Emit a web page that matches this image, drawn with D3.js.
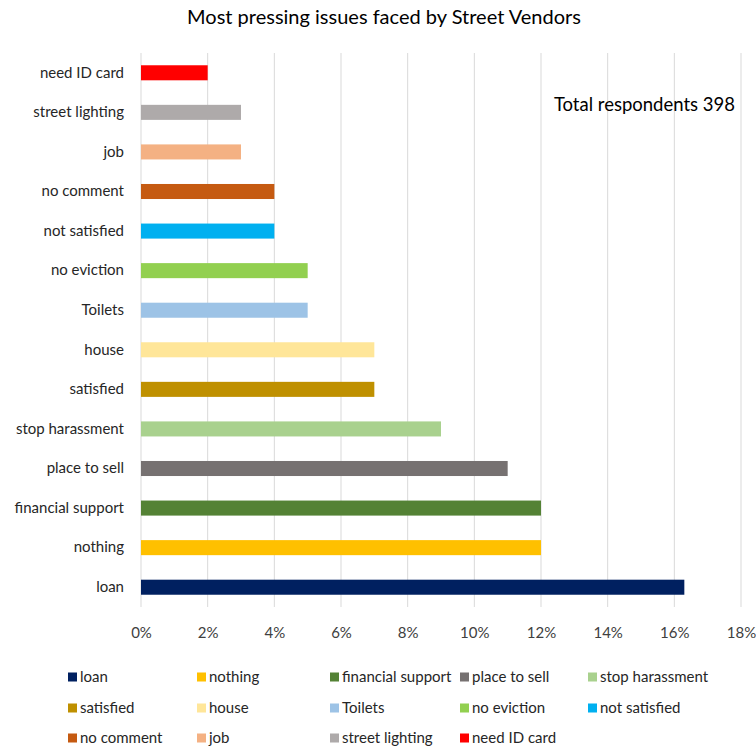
<!DOCTYPE html>
<html>
<head>
<meta charset="utf-8">
<script src="https://cdn.jsdelivr.net/npm/d3@7"></script>
<style>
  html, body { margin: 0; padding: 0; background: #fff; }
  svg { display: block; font-family: Lato, "Open Sans", sans-serif; }
</style>
</head>
<body>
<svg id="chart" width="756" height="748"></svg>
<script>
// Issues, listed from the bottom bar upward
const categories = ["loan", "nothing", "financial support", "place to sell", "stop harassment",
  "satisfied", "house", "Toilets", "no eviction", "not satisfied",
  "no comment", "job", "street lighting", "need ID card"];
// Share of respondents (%)
const values = [16.3, 12, 12, 11, 9, 7, 7, 5, 5, 4, 4, 3, 3, 2];
const colors = ["#002060", "#FFC000", "#548235", "#767171", "#A9D18E",
  "#BF9000", "#FFE699", "#9DC3E6", "#92D050", "#00B0F0",
  "#C55A11", "#F4B183", "#AEAAAA", "#FF0000"];
const xTicks = [0, 2, 4, 6, 8, 10, 12, 14, 16, 18];
const titleText = "Most pressing issues faced by Street Vendors";
const noteText = "Total respondents 398";

const svg = d3.select("#chart");
const m = { left: 141, right: 741, top: 53, bottom: 607 };

const x = d3.scaleLinear().domain([0, 18]).range([m.left, m.right]);
// top of chart shows the last category
const y = d3.scaleBand().domain(categories.slice().reverse())
  .range([m.top, m.bottom]).paddingInner(0.62).paddingOuter(0.31);

// vertical gridlines
svg.append("g").selectAll("line").data(xTicks).join("line")
  .attr("x1", d => x(d)).attr("x2", d => x(d))
  .attr("y1", m.top).attr("y2", m.bottom)
  .attr("stroke", "#d9d9d9").attr("stroke-width", 1);

// x axis labels
const xAxis = d3.axisBottom(x).tickValues(xTicks).tickFormat(d => d + "%").tickSize(0).tickPadding(20);
const gx = svg.append("g").attr("transform", `translate(0,${m.bottom})`).call(xAxis);
gx.select(".domain").remove();
gx.selectAll("text").attr("font-size", 15).attr("fill", "#404040").attr("font-family", "Lato, sans-serif");

// y axis labels
const yAxis = d3.axisLeft(y).tickSize(0).tickPadding(17);
const gy = svg.append("g").attr("transform", `translate(${m.left},0)`).call(yAxis);
gy.select(".domain").remove();
gy.selectAll("text").attr("font-size", 15).attr("fill", "#262626").attr("font-family", "Lato, sans-serif");

// bars
svg.append("g").selectAll("rect").data(categories).join("rect")
  .attr("x", x(0))
  .attr("y", d => y(d))
  .attr("height", y.bandwidth())
  .attr("width", (d, i) => x(values[i]) - x(0))
  .attr("fill", (d, i) => colors[i]);

// title
svg.append("text").attr("x", 384).attr("y", 24).attr("text-anchor", "middle")
  .attr("font-size", 20).attr("fill", "#000").text(titleText);

// annotation
svg.append("text").attr("x", 735).attr("y", 111).attr("text-anchor", "end")
  .attr("font-size", 18.5).attr("fill", "#000").text(noteText);

// legend: 5 columns, 3 rows
const colX = [68, 197, 330, 460, 588];
const rowY = [677, 708, 738];
const lg = svg.append("g").selectAll("g").data(categories).join("g")
  .attr("transform", (d, i) => `translate(${colX[i % 5]},${rowY[Math.floor(i / 5)]})`);
lg.append("rect").attr("x", 0).attr("y", -4.5).attr("width", 9).attr("height", 9)
  .attr("fill", (d, i) => colors[i]);
lg.append("text").attr("x", 12).attr("y", 5).attr("font-size", 15).attr("fill", "#262626")
  .text(d => d);
</script>
</body>
</html>
